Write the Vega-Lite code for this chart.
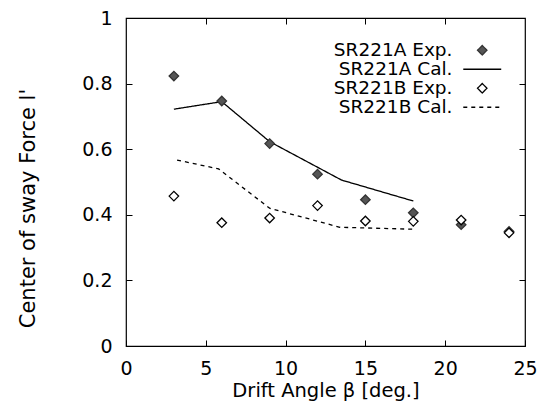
{
  "$schema": "https://vega.github.io/schema/vega-lite/v6.json",
  "width": 399,
  "height": 328,
  "autosize": "none",
  "padding": {"left": 126, "top": 18, "right": 13, "bottom": 60},
  "background": "white",
  "config": {
    "font": "DejaVu Sans",
    "view": {"stroke": "black", "strokeWidth": 1.2},
    "axis": {
      "grid": false,
      "domain": false,
      "tickColor": "black",
      "tickSize": -6,
      "tickWidth": 1,
      "labelColor": "black",
      "labelFontSize": 19,
      "labelFlush": false,
      "labelOverlap": false,
      "titleColor": "black",
      "titleFontSize": 19.5,
      "titleFontWeight": "normal"
    },
    "legend": {
      "orient": "none",
      "legendX": 347,
      "legendY": 23,
      "title": null,
      "labelAlign": "right",
      "labelOffset": -39,
      "labelFontSize": 18.5,
      "labelColor": "black",
      "labelLimit": 300,
      "symbolSize": 90,
      "symbolStrokeWidth": 1.3,
      "rowPadding": -1.5
    }
  },
  "data": {
    "values": [
      {"series": "SR221A Exp.", "beta": 3, "l": 0.823},
      {"series": "SR221A Exp.", "beta": 6, "l": 0.747},
      {"series": "SR221A Exp.", "beta": 9, "l": 0.617},
      {"series": "SR221A Exp.", "beta": 12, "l": 0.524},
      {"series": "SR221A Exp.", "beta": 15, "l": 0.446},
      {"series": "SR221A Exp.", "beta": 18, "l": 0.406},
      {"series": "SR221A Exp.", "beta": 21, "l": 0.370},
      {"series": "SR221A Exp.", "beta": 24, "l": 0.349},
      {"series": "SR221B Exp.", "beta": 3, "l": 0.457},
      {"series": "SR221B Exp.", "beta": 6, "l": 0.376},
      {"series": "SR221B Exp.", "beta": 9, "l": 0.390},
      {"series": "SR221B Exp.", "beta": 12, "l": 0.428},
      {"series": "SR221B Exp.", "beta": 15, "l": 0.381},
      {"series": "SR221B Exp.", "beta": 18, "l": 0.380},
      {"series": "SR221B Exp.", "beta": 21, "l": 0.384},
      {"series": "SR221B Exp.", "beta": 24, "l": 0.345},
      {"series": "SR221A Cal.", "beta": 3, "l": 0.722},
      {"series": "SR221A Cal.", "beta": 6, "l": 0.745},
      {"series": "SR221A Cal.", "beta": 9, "l": 0.623},
      {"series": "SR221A Cal.", "beta": 13.5, "l": 0.506},
      {"series": "SR221A Cal.", "beta": 18, "l": 0.442},
      {"series": "SR221B Cal.", "beta": 3.2, "l": 0.567},
      {"series": "SR221B Cal.", "beta": 5.8, "l": 0.540},
      {"series": "SR221B Cal.", "beta": 9, "l": 0.420},
      {"series": "SR221B Cal.", "beta": 13.4, "l": 0.362},
      {"series": "SR221B Cal.", "beta": 18, "l": 0.356}
    ]
  },
  "layer": [
    {
      "transform": [{"filter": "indexof(datum.series, 'Cal.') >= 0"}],
      "mark": {"type": "line", "strokeWidth": 1.3, "clip": true},
      "encoding": {
        "x": {"field": "beta", "type": "quantitative", "scale": {"domain": [0, 25], "nice": false},
          "axis": {"orient": "top", "values": [5, 10, 15, 20], "labels": false, "title": null}},
        "y": {"field": "l", "type": "quantitative", "scale": {"domain": [0, 1], "nice": false},
          "axis": {"orient": "right", "values": [0.2, 0.4, 0.6, 0.8], "labels": false, "title": null}},
        "stroke": {"field": "series", "type": "nominal",
          "scale": {"domain": ["SR221A Exp.", "SR221A Cal.", "SR221B Exp.", "SR221B Cal."], "range": ["#333333", "black", "black", "black"]}},
        "strokeDash": {"field": "series", "type": "nominal",
          "scale": {"domain": ["SR221A Exp.", "SR221A Cal.", "SR221B Exp.", "SR221B Cal."], "range": [[1, 0], [1, 0], [1, 0], [4, 4]]}}
      }
    },
    {
      "transform": [{"filter": "indexof(datum.series, 'Exp.') >= 0"}],
      "mark": {"type": "point", "filled": true, "size": 90, "strokeWidth": 1.3, "opacity": 1},
      "encoding": {
        "x": {"field": "beta", "type": "quantitative", "scale": {"domain": [0, 25], "nice": false},
          "axis": {"orient": "bottom", "values": [0, 5, 10, 15, 20, 25], "labelPadding": 19, "title": "Drift Angle β [deg.]", "titleY": 44.5, "titleBaseline": "middle"}},
        "y": {"field": "l", "type": "quantitative", "scale": {"domain": [0, 1], "nice": false},
          "axis": {"orient": "left", "values": [0, 0.2, 0.4, 0.6, 0.8, 1], "format": "~g", "labelPadding": 20,
            "title": "Center of sway Force l'", "titleFontSize": 21, "titleX": -98, "titleY": 190, "titleAngle": -90, "titleAlign": "center", "titleBaseline": "middle"}},
        "shape": {"field": "series", "type": "nominal",
          "scale": {"domain": ["SR221A Exp.", "SR221A Cal.", "SR221B Exp.", "SR221B Cal."], "range": ["diamond", "M-4,0H4", "diamond", "M-4,0H4"]}},
        "fill": {"field": "series", "type": "nominal",
          "scale": {"domain": ["SR221A Exp.", "SR221A Cal.", "SR221B Exp.", "SR221B Cal."], "range": ["#555555", "transparent", "white", "transparent"]}},
        "stroke": {"field": "series", "type": "nominal",
          "scale": {"domain": ["SR221A Exp.", "SR221A Cal.", "SR221B Exp.", "SR221B Cal."], "range": ["#333333", "black", "black", "black"]}}
      }
    }
  ],
  "resolve": {"axis": {"x": "independent", "y": "independent"}}
}
